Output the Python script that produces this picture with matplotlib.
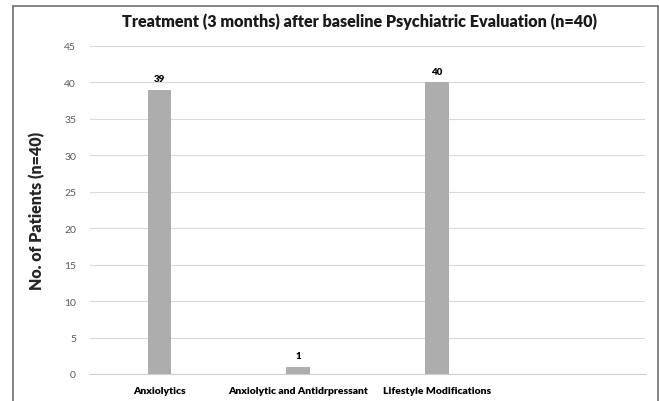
import matplotlib
matplotlib.use("Agg")
import matplotlib.pyplot as plt
from matplotlib.patches import Rectangle

# Data
categories = ["Anxiolytics", "Anxiolytic and Antidrpressant", "Lifestyle Modifications"]
patients = [39, 1, 40]
y_ticks = list(range(0, 50, 5))

plt.rcParams["font.family"] = ["Lato", "DejaVu Sans"]

fig = plt.figure(figsize=(6.59, 4.02), dpi=100)
ax = fig.add_axes([90 / 659, 1 - 375 / 402, 555 / 659, 328 / 402])

x = list(range(len(categories)))
bars = ax.bar(x, patients, width=0.17, color="#adadad", zorder=3)

for b, v in zip(bars, patients):
    ax.text(b.get_x() + b.get_width() / 2, v + 0.9, str(v),
            ha="center", va="bottom", fontsize=7, fontweight="heavy", color="#000000")

ax.set_xlim(-0.5, 3.5)
ax.set_ylim(0, 45)
ax.set_yticks(y_ticks)
ax.set_xticks(x)
ax.set_xticklabels(categories, fontsize=7.5, fontweight="heavy")
ax.tick_params(axis="y", labelsize=7.5, colors="#595959", length=0, pad=10)
ax.tick_params(axis="x", length=0, pad=9)
ax.grid(axis="y", color="#d9d9d9", linewidth=0.8, zorder=0)

for s in ["top", "right", "left"]:
    ax.spines[s].set_visible(False)
ax.spines["bottom"].set_color("#d0d0d0")
ax.spines["bottom"].set_linewidth(0.8)

ax.set_ylabel("No. of Patients (n=40)", fontsize=11.5, fontweight="heavy", color="#262626", labelpad=14)
fig.text(360 / 659, 1 - 22 / 402, "Treatment (3 months) after baseline Psychiatric Evaluation (n=40)",
         ha="center", va="center", fontsize=11.6, fontweight="heavy", color="#1a1a1a")

# outer frame
fig.patches.append(Rectangle((13 / 659, -0.05), (658 - 13) / 659, 1 - 7 / 402 + 0.05,
                             transform=fig.transFigure, fill=False,
                             edgecolor="#707070", linewidth=1.2))

plt.savefig("out.png", dpi=100)
plt.close()
